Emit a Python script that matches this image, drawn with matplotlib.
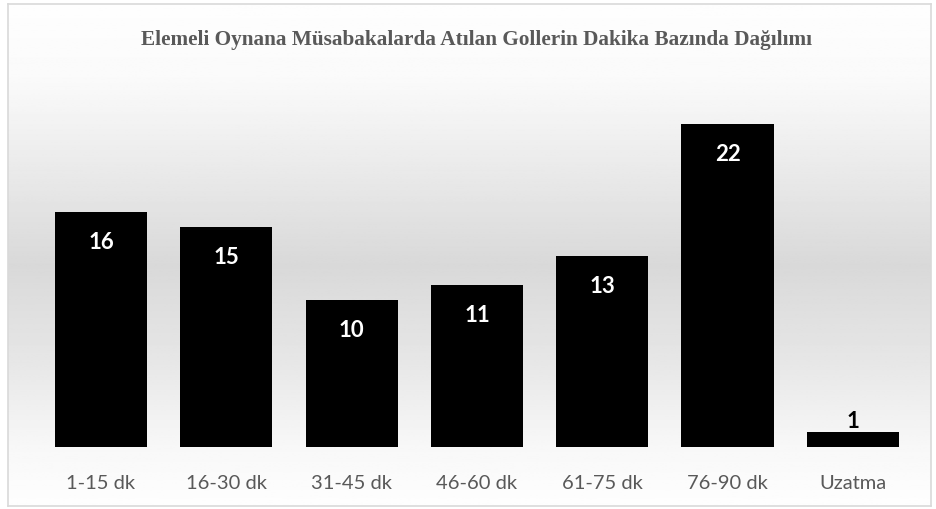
import matplotlib.pyplot as plt
import numpy as np

# data
categories = ["1-15 dk", "16-30 dk", "31-45 dk", "46-60 dk", "61-75 dk", "76-90 dk", "Uzatma"]
goals = [16, 15, 10, 11, 13, 22, 1]
title = "Elemeli Oynana Müsabakalarda Atılan Gollerin Dakika Bazında Dağılımı"

fig = plt.figure(figsize=(9.37, 5.09), dpi=100)

# gradient background (white -> gray -> white)
bg = fig.add_axes([0.0085, 0.006, 0.985, 0.986], zorder=0)
stops_y = [0.0, 0.15, 0.35, 0.52, 0.7, 0.88, 1.0]
stops_c = [0.995, 0.98, 0.91, 0.85, 0.9, 0.97, 0.995]
yy = np.linspace(0, 1, 300)
shade = np.interp(yy, stops_y, stops_c)
img = np.repeat(shade[:, None], 2, axis=1)
bg.imshow(img, cmap="gray", vmin=0, vmax=1, aspect="auto", extent=[0, 1, 0, 1], origin="upper")
bg.set_xticks([])
bg.set_yticks([])
for s in bg.spines.values():
    s.set_color("#d9d9d9")
    s.set_linewidth(1.2)

ax = fig.add_axes([0.041, 0.1218, 0.936, 0.722], zorder=1)
ax.patch.set_alpha(0)
x = np.arange(len(categories))
bars = ax.bar(x, goals, width=0.735, color="black")
ax.set_xlim(-0.5, len(categories) - 0.5)
ax.set_ylim(0, 25)
ax.set_yticks([])
ax.set_xticks(x)
ax.set_xticklabels(categories, fontsize=14.5, color="#595959", family="Lato")
ax.tick_params(axis="x", length=0, pad=20)
for s in ax.spines.values():
    s.set_visible(False)

for xi, v in zip(x, goals):
    if v > 3:
        ax.annotate(str(v), (xi, v), xytext=(0, -22), textcoords="offset points",
                    ha="center", va="center", color="white", fontsize=16,
                    fontweight="bold", family="Lato")
    else:
        ax.annotate(str(v), (xi, v), xytext=(0, 8), textcoords="offset points",
                    ha="center", va="center", color="black", fontsize=16,
                    fontweight="bold", family="Lato")

fig.text(0.509, 0.922, title, ha="center", va="center", fontsize=15.3,
         fontweight="bold", color="#595959", family=["Liberation Serif", "DejaVu Serif"])

fig.savefig("out.png", dpi=100)
